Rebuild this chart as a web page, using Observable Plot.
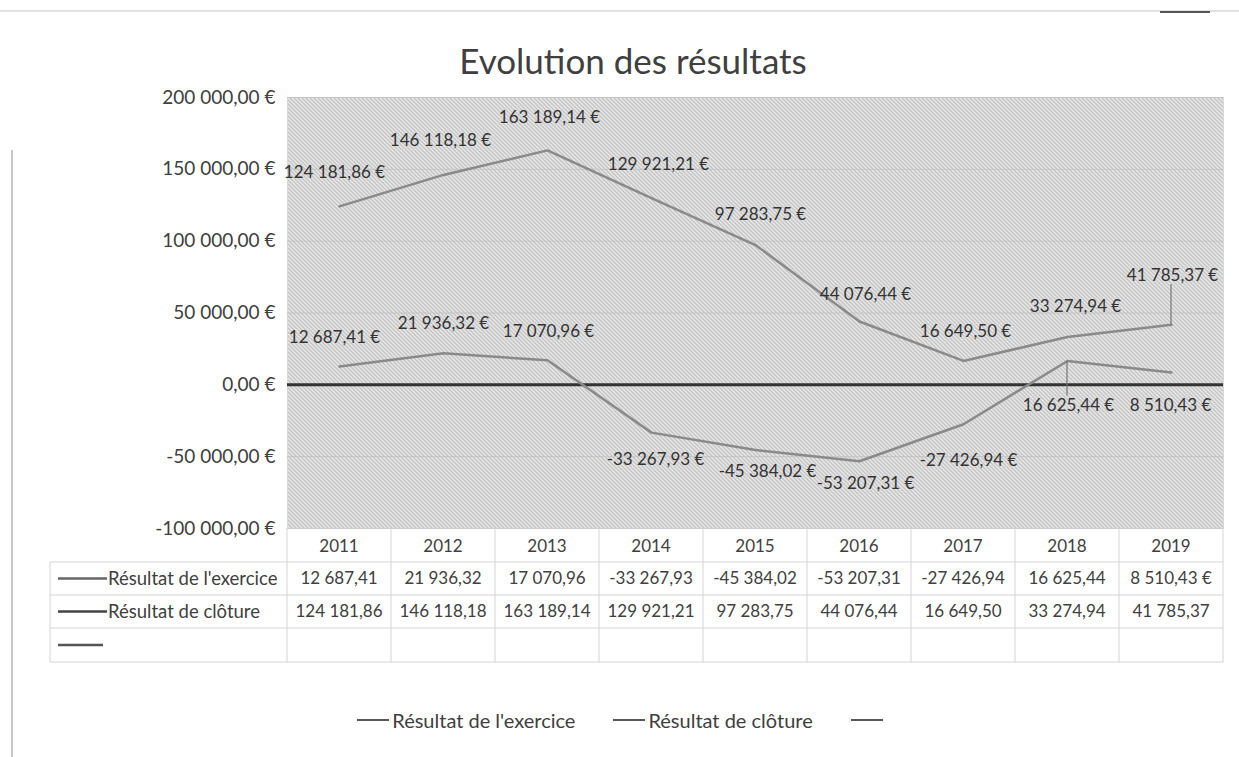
<!DOCTYPE html>
<html>
<head>
<meta charset="utf-8">
<script src="https://cdn.jsdelivr.net/npm/d3@7"></script>
<script src="https://cdn.jsdelivr.net/npm/@observablehq/plot@0.6"></script>
<style>
  html, body { margin: 0; padding: 0; background: #fff; }
  body { width: 1239px; height: 757px; position: relative; overflow: hidden; font-family: Lato, "Open Sans", sans-serif; color: #404040; }
  #border-top { position: absolute; left: 0; top: 10px; width: 1239px; height: 0; border-top: 2px solid #e2e2e2; }
  #border-left { position: absolute; left: 11px; top: 150px; width: 0; height: 607px; border-left: 2px solid #c8c8c8; }
  #corner-mark { position: absolute; left: 1160px; top: 11px; width: 50px; height: 0; border-top: 2px solid #555; }
  #title { height: 80px; box-sizing: border-box; padding-top: 40px; padding-left: 27px; line-height: 40px; text-align: center; font-size: 35px; color: #404040; }
  #chart svg { display: block; }
  #legend { display: flex; justify-content: center; align-items: center; padding-top: 44px; padding-left: 4px; font-size: 20px; color: #404040; line-height: 20px; }
  #legend .item { display: flex; align-items: center; margin: 0 19px; }
  #legend .key { display: inline-block; width: 32px; height: 0; border-top: 2.5px solid #555; margin-right: 3px; }
</style>
</head>
<body>
<div id="border-top"></div>
<div id="border-left"></div>
<div id="corner-mark"></div>
<div id="title">Evolution des résultats</div>
<div id="chart"></div>
<div id="legend"></div>
<script>
// ---- data ----
const years = ["2011", "2012", "2013", "2014", "2015", "2016", "2017", "2018", "2019"];
const exercice = [12687.41, 21936.32, 17070.96, -33267.93, -45384.02, -53207.31, -27426.94, 16625.44, 8510.43];
const cloture = [124181.86, 146118.18, 163189.14, 129921.21, 97283.75, 44076.44, 16649.50, 33274.94, 41785.37];
const yTicks = [-100000, -50000, 0, 50000, 100000, 150000, 200000];
const seriesNames = ["Résultat de l'exercice", "Résultat de clôture"];

// ---- layout (label placement as in the original, in pixels) ----
const clotureDx = [-5, -3, 2, 7, 5, 6, 2, 8, 1];
const clotureDy = [-34, -34, -33, -34, -31, -27, -29, -30, -49];
const exerciceDx = [-5, 0, 1, 4, 12, 6, 5, 1, -1];
const exerciceDy = [-29, -30, -29, 27, 22, 22, 36, 45, 33];

const fr = d3.formatLocale({decimal: ",", thousands: "\u00a0", grouping: [3], currency: ["", "\u00a0€"], minus: "-"});
const fmtEur = fr.format("$,.2f");
const fmtNum = fr.format(",.2f");

const clotureData = years.map((y, i) => ({year: y, v: cloture[i], i}));
const exerciceData = years.map((y, i) => ({year: y, v: exercice[i], i}));

const labelMarks = [];
clotureData.forEach(d => labelMarks.push(Plot.text([d], {
  x: "year", y: "v", text: dd => fmtEur(dd.v), dx: clotureDx[d.i], dy: clotureDy[d.i],
  fill: "#333", fontSize: 17
})));
exerciceData.forEach(d => labelMarks.push(Plot.text([d], {
  x: "year", y: "v", text: dd => fmtEur(dd.v), dx: exerciceDx[d.i], dy: exerciceDy[d.i],
  fill: "#333", fontSize: 17
})));

const chart = Plot.plot({
  width: 1239,
  height: 586,
  marginTop: 17,
  marginBottom: 138,
  marginLeft: 287,
  marginRight: 16,
  style: {fontFamily: "Lato, 'Open Sans', sans-serif", fontSize: "19px", color: "#404040", background: "transparent", overflow: "visible"},
  x: {type: "point", domain: years, padding: 0.5, axis: null},
  y: {domain: [-100000, 200000], ticks: yTicks, tickFormat: fmtEur, tickSize: 0, tickPadding: 12, label: null},
  marks: [
    Plot.frame({fill: "url(#hatch)", stroke: "#d8d8d8"}),
    Plot.ruleY(yTicks, {stroke: "#c4c4c4", strokeWidth: 1}),
    Plot.ruleY([0], {stroke: "#333", strokeWidth: 3}),
    Plot.line(clotureData, {x: "year", y: "v", stroke: "#8a8a8a", strokeWidth: 2.5}),
    Plot.line(exerciceData, {x: "year", y: "v", stroke: "#8a8a8a", strokeWidth: 2.5}),
    Plot.line(exerciceData, {x: "year", y: "v", stroke: "#3a3a3a", strokeWidth: 2.5, ariaLabel: "exercice-positive"}),
    ...labelMarks
  ]
});

document.getElementById("chart").appendChild(chart);

const svg = d3.select(chart);
const xs = chart.scale("x");
const ys = chart.scale("y");
const cx = y => xs.apply(y);
const step = cx(years[1]) - cx(years[0]);
const colLeft = cx(years[0]) - step / 2;
const colRight = cx(years[years.length - 1]) + step / 2;
const plotBottom = ys.apply(-100000);
const plotTop = ys.apply(200000);

// ---- hatch pattern for the plot background + clip for the darker positive end of the exercice line ----
const defs = svg.insert("defs", ":first-child");
const pat = defs.append("pattern").attr("id", "hatch").attr("patternUnits", "userSpaceOnUse")
  .attr("width", 4).attr("height", 4);
pat.append("rect").attr("width", 4).attr("height", 4).attr("fill", "#f2f2f2");
pat.append("path").attr("d", "M0,0 L4,4 M-1,3 L1,5 M3,-1 L5,1")
  .attr("stroke", "#a9a9a9").attr("stroke-width", 1.1);
defs.append("clipPath").attr("id", "posclip").append("rect")
  .attr("x", cx(years[6])).attr("y", plotTop)
  .attr("width", colRight - cx(years[6])).attr("height", ys.apply(0) - plotTop);
svg.select('g[aria-label="exercice-positive"]').attr("clip-path", "url(#posclip)");

// ---- data table below the plot, aligned on Plot's x scale ----
const rowH = [34, 33, 33, 34];
const rowTops = [plotBottom];
rowH.forEach(h => rowTops.push(rowTops[rowTops.length - 1] + h));
const tableLeft = 50;
const g = svg.append("g").attr("class", "data-table").attr("text-anchor", "start");
const gridColor = "#d4d4d4";

rowTops.forEach((yy, k) => {
  g.append("line").attr("x1", k === 0 ? colLeft : tableLeft).attr("x2", colRight)
    .attr("y1", yy).attr("y2", yy).attr("stroke", gridColor);
});
for (let k = 0; k <= years.length; k++) {
  const xx = colLeft + k * step;
  g.append("line").attr("x1", xx).attr("x2", xx).attr("y1", rowTops[0]).attr("y2", rowTops[4]).attr("stroke", gridColor);
}
g.append("line").attr("x1", tableLeft).attr("x2", tableLeft).attr("y1", rowTops[1]).attr("y2", rowTops[4]).attr("stroke", gridColor);

const rowMid = k => (rowTops[k] + rowTops[k + 1]) / 2;
years.forEach(y => {
  g.append("text").attr("x", cx(y)).attr("y", rowMid(0) + 1).attr("dy", "0.35em")
    .attr("text-anchor", "middle").attr("font-size", 17).attr("fill", "#404040").text(y);
});
const rows = [exercice, cloture];
rows.forEach((vals, r) => {
  const ym = rowMid(r + 1);
  g.append("line").attr("x1", 58).attr("x2", 107).attr("y1", ym).attr("y2", ym)
    .attr("stroke", r === 0 ? "#666" : "#444").attr("stroke-width", 2.5);
  g.append("text").attr("x", 108).attr("y", ym).attr("dy", "0.35em").attr("font-size", 18.5)
    .attr("text-anchor", "start").attr("fill", "#404040").text(seriesNames[r]);
  vals.forEach((v, i) => {
    const s = (r === 0 && i === vals.length - 1) ? fmtEur(v) : fmtNum(v);
    g.append("text").attr("x", cx(years[i])).attr("y", ym).attr("dy", "0.35em")
      .attr("text-anchor", "middle").attr("font-size", 17).attr("fill", "#404040").text(s);
  });
});
g.append("line").attr("x1", 58).attr("x2", 103).attr("y1", rowMid(3)).attr("y2", rowMid(3))
  .attr("stroke", "#555").attr("stroke-width", 2.5);

// leader lines of moved data labels
const leaders = [
  {vals: exercice, i: 7, dy: exerciceDy, toward: -10},
  {vals: cloture, i: 8, dy: clotureDy, toward: 9}
];
leaders.forEach(l => {
  const x = cx(years[l.i]);
  const y0 = ys.apply(l.vals[l.i]);
  const y1 = y0 + l.dy[l.i] + l.toward;
  g.append("line").attr("x1", x).attr("x2", x).attr("y1", y0).attr("y2", y1)
    .attr("stroke", "#777").attr("stroke-width", 1.2);
});

// ---- legend ----
const legend = d3.select("#legend");
const legendItems = [...seriesNames, ""];
legendItems.forEach(name => {
  const it = legend.append("div").attr("class", "item");
  it.append("span").attr("class", "key");
  if (name) it.append("span").text(name);
});
</script>
</body>
</html>
